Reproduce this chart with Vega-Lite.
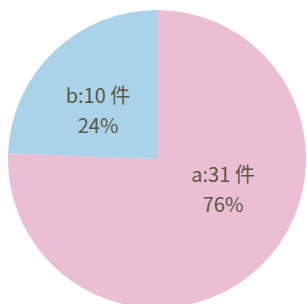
{
  "$schema": "https://vega.github.io/schema/vega-lite/v6.json",
  "width": 314,
  "height": 318,
  "autosize": {"type": "none"},
  "padding": 0,
  "background": "white",
  "view": {"stroke": null},
  "data": {"values": [
    {"cat": "a", "count": 31},
    {"cat": "b", "count": 10}
  ]},
  "transform": [
    {"joinaggregate": [{"op": "sum", "field": "count", "as": "total"}]},
    {"calculate": "[datum.cat + ':' + datum.count + ' 件', format(datum.count / datum.total, '.0%')]", "as": "label"}
  ],
  "encoding": {
    "theta": {"field": "count", "type": "quantitative", "stack": true},
    "color": {"field": "cat", "type": "nominal", "legend": null,
      "scale": {"domain": ["a", "b"], "range": ["#EBBED4", "#AAD3EA"]}},
    "order": {"field": "cat"}
  },
  "layer": [
    {"mark": {"type": "arc", "outerRadius": 149, "stroke": null}},
    {"mark": {"type": "text", "radius": 75, "dx": 14, "dy": -37, "font": "Noto Sans CJK JP", "fontSize": 20, "lineHeight": 30, "color": "#5a5844", "baseline": "middle", "align": "center"},
     "encoding": {"text": {"condition": {"test": "datum.cat === 'a'", "field": "label"}, "value": ""}, "color": {"value": "#5a5844"}}},
    {"mark": {"type": "text", "radius": 75, "dx": -7, "dy": -8, "font": "Noto Sans CJK JP", "fontSize": 20, "lineHeight": 30, "color": "#5a5844", "baseline": "middle", "align": "center"},
     "encoding": {"text": {"condition": {"test": "datum.cat === 'b'", "field": "label"}, "value": ""}, "color": {"value": "#5a5844"}}}
  ]
}
